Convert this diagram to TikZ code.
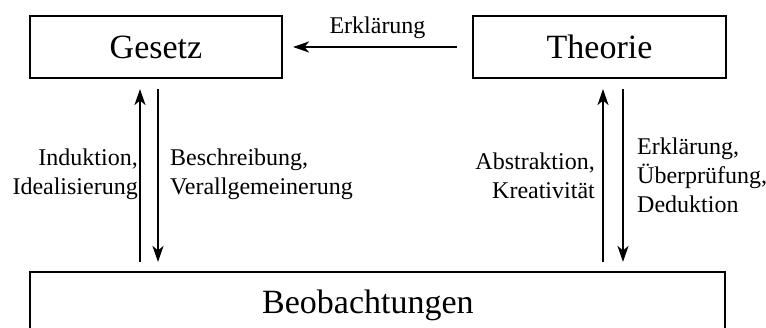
\documentclass[tikz,border=0pt]{standalone}
\usepackage{fontspec}
\setmainfont{Liberation Serif}
\usetikzlibrary{arrows.meta}
\begin{document}
\begin{tikzpicture}[x=1pt,y=1pt,
  box/.style={draw,line width=2.1pt,inner sep=0pt},
  bigtext/.style={font=\fontsize{34}{40}\selectfont},
  lbl/.style={font=\fontsize{24}{29}\selectfont,inner sep=0pt},
  arr/.style={line width=2pt,-{Stealth[length=16pt,width=11pt,inset=4.5pt]}}]
\clip (0,0) rectangle (766,327);
\node[box,bigtext,minimum width=252,minimum height=62] (G) at (156,280) {Gesetz};
\node[box,bigtext,minimum width=253,minimum height=62] (T) at (599.5,280) {Theorie};
\node[box,minimum width=695,minimum height=85] (B) at (377.5,12.5) {};
\node[bigtext,anchor=base west,inner sep=0pt] (bt) at (262,14) {Beobachtungen};
% top arrow
\draw[arr,shorten <=15pt,shorten >=10pt] (T.west) -- (G.east)
  node[midway,above=7pt,lbl] (e1) {Erklärung};
% coordinates for vertical arrows
\coordinate (gu) at (140,0);
\coordinate (gd) at (158,0);
\coordinate (tu) at (603,0);
\coordinate (td) at (623,0);
\draw[arr,shorten <=9pt,shorten >=10pt] (B.north -| gu) -- (G.south -| gu);
\draw[arr,shorten <=10pt,shorten >=9pt] (G.south -| gd) -- (B.north -| gd);
\draw[arr,shorten <=9pt,shorten >=10pt] (B.north -| tu) -- (T.south -| tu);
\draw[arr,shorten <=10pt,shorten >=9pt] (T.south -| td) -- (B.north -| td);
% labels
\node[lbl,align=right,anchor=east] (l1) at (138,153.1) {Induktion,\\Idealisierung};
\node[lbl,align=left,anchor=west] (l2) at (170,153.1) {Beschreibung,\\Verallgemeinerung};
\node[lbl,align=right,anchor=east] (l3) at (595,151.7) {Abstraktion,\\Kreativität};
\node[lbl,align=left,anchor=west] (l4) at (637,151.7) {Erklärung,\\Überprüfung,\\Deduktion};
\end{tikzpicture}
\end{document}
